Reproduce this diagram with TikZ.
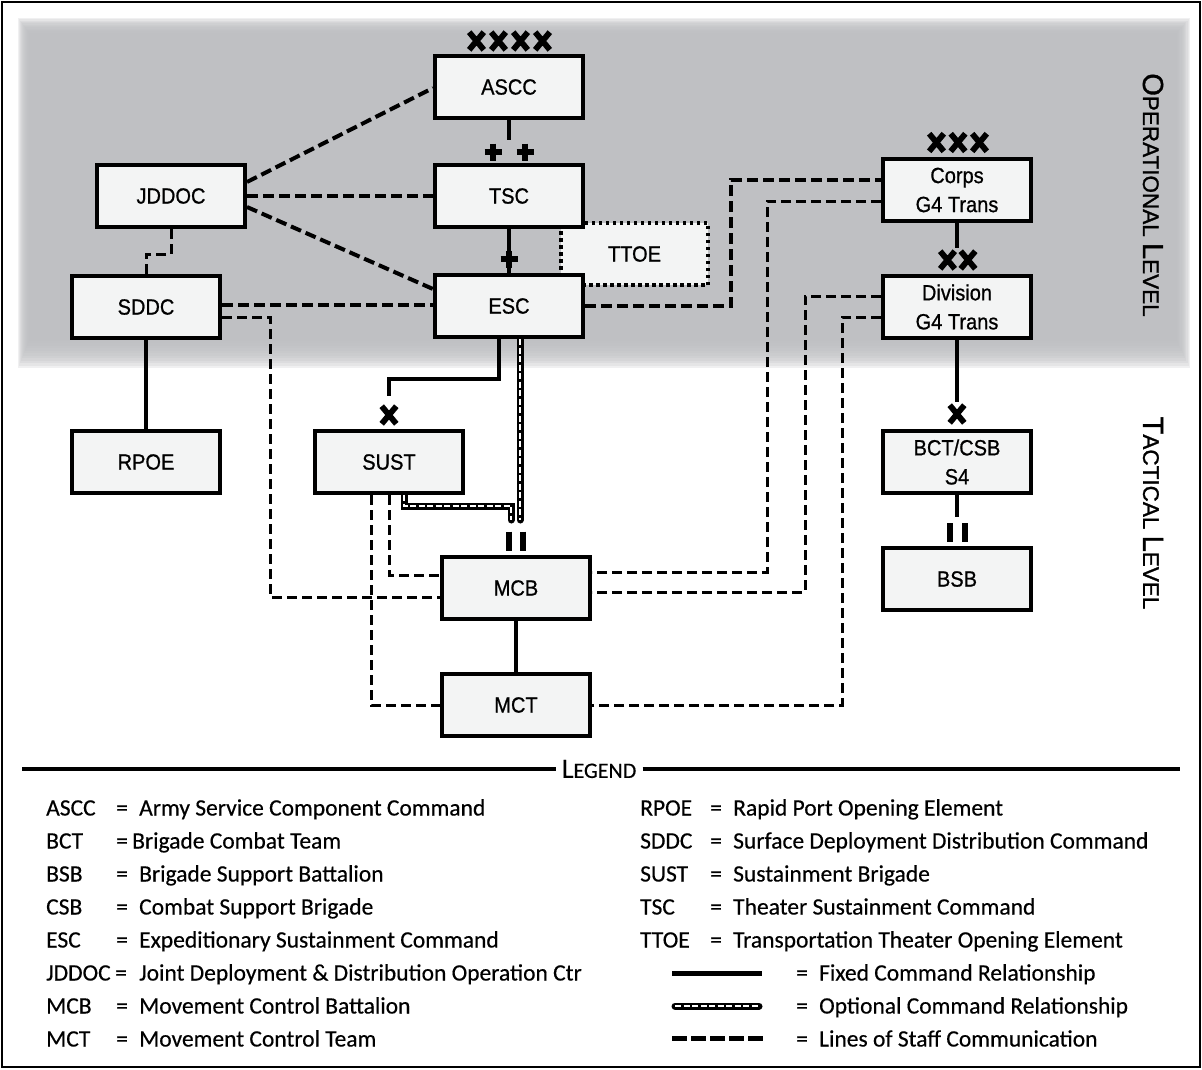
\documentclass[tikz,border=0pt]{standalone}
\usepackage{fontspec}
\setmainfont{Liberation Sans}
\newfontfamily\boxfont{Liberation Sans}[FakeStretch=0.91, FakeBold=0.8]
\newfontfamily\sidefont{Liberation Sans}[FakeBold=1.2]
\newfontfamily\legfont{Carlito}[FakeBold=0.4]
\usetikzlibrary{calc}
\pgfdeclarelayer{back}
\pgfdeclarelayer{conn}
\pgfsetlayers{back,conn,main}
\definecolor{bggray}{RGB}{190,191,194}
\definecolor{boxfill}{RGB}{243,244,244}
\begin{document}
\begin{tikzpicture}[x=1pt,y=-1pt,
  box/.style={draw=black, line width=4pt, fill=boxfill, minimum width=148pt, minimum height=62pt, inner sep=0pt, font=\boxfont\fontsize{22}{29}\selectfont, align=center},
  fixed/.style={line width=4.5pt},
  staff/.style={line width=4pt, dash pattern=on 11pt off 5pt},
  stafft/.style={line width=3pt, dash pattern=on 10pt off 5pt},
  optional/.style={line width=7pt, line cap=round, postaction={draw=white, line width=2.2pt, line cap=butt, dash pattern=on 6pt off 2.5pt}},
  ech/.style={line width=5.8pt},
  xmark/.pic={\draw[ech] (-7.3,-8.8)--(7.3,8.8) (-7.3,8.8)--(7.3,-8.8);},
  plusmark/.pic={\draw[ech] (0,-8.5)--(0,8.5) (-8.5,0)--(8.5,0);},
  imark/.pic={\draw[ech] (0,-9.5)--(0,9.5);},
  leg/.style={inner sep=0pt, anchor=base west, font=\legfont\fontsize{23.5}{28}\selectfont},
  side/.style={rotate=-90, inner sep=0pt, font=\sidefont},
  ]
\useasboundingbox (0,0) rectangle (1202,1069);

% backdrop
\begin{pgfonlayer}{back}
\fill[white] (0,0) rectangle (1202,1069);
\foreach \i in {0,...,11}{
  \fill[bggray, fill opacity=0.22] (18+\i, 18+\i*1.33) rectangle (1190-\i*1.2, 368-\i*2.5);
}
\end{pgfonlayer}
\draw[line width=2.5pt] (2,2) rectangle (1200,1067);

% nodes
\node[box] (ascc) at (509,87) {ASCC};
\node[box, dash pattern=on 3.5pt off 3.5pt, minimum width=147pt] (ttoe) at (634.5,254) {TTOE};
\node[box] (tsc) at (509,196) {TSC};
\node[box] (esc) at (509,306) {ESC};
\node[box] (jddoc) at (171,196) {JDDOC};
\node[box] (sddc) at (146,307) {SDDC};
\node[box] (rpoe) at (146,462) {RPOE};
\node[box] (sust) at (389,462) {SUST};
\node[box] (mcb) at (516,588) {MCB};
\node[box] (mct) at (516,705) {MCT};
\node[box] (corps) at (957,190) {Corps\\G4 Trans};
\node[box] (div) at (957,307) {Division\\G4 Trans};
\node[box] (bct) at (957,462) {BCT/CSB\\S4};
\node[box] (bsb) at (957,579) {BSB};

% connectors
\begin{pgfonlayer}{conn}
\draw[fixed] (ascc.south) -- ++(0,20);
\draw[fixed] (tsc.south) -- (esc.north);
\draw[staff] ($(jddoc.east)+(0,-14)$) -- ($(ascc.west)+(0,1)$);
\draw[staff] (jddoc.east) -- (tsc.west);
\draw[staff] ($(jddoc.east)+(0,11)$) -- ($(esc.west)+(0,-17)$);
\draw[stafft] (jddoc.south) -- ++(0,25) -| (sddc.north);
\draw[staff] ($(sddc.east)+(0,-2)$) -- ($(esc.west)+(0,-1)$);
\draw[stafft] ($(sddc.east)+(0,10)$) -| ($(mcb.west)+(-170,9)$) -- ($(mcb.west)+(0,9)$);
\draw[fixed] (sddc.south) -- (rpoe.north);
\draw[fixed] ($(esc.south)+(-10,0)$) -- ++(0,40) -| ($(sust.north)+(0,-33)$);
\draw[optional] ($(esc.south)+(11,0)$) -- ($(mcb.north)+(4,-35)$);
\draw[optional] ($(sust.south)+(15,0)$) -- ++(0,11) -| ($(mcb.north)+(-5,-35)$);
\draw[stafft] (sust.south) |- ($(mcb.west)+(0,-13)$);
\draw[stafft] ($(sust.south)+(-18,0)$) |- (mct.west);
\draw[fixed] (mcb.south) -- (mct.north);
\draw[staff] (esc.east) -| ($(corps.west)+(-150,-10)$) -- ($(corps.west)+(0,-10)$);
\draw[stafft] ($(corps.west)+(0,11)$) -| ($(mcb.east)+(175,-16)$) -- ($(mcb.east)+(0,-16)$);
\draw[stafft] ($(div.west)+(0,-11)$) -| ($(mcb.east)+(213,4)$) -- ($(mcb.east)+(0,4)$);
\draw[stafft] ($(div.west)+(0,10)$) -| ($(mct.east)+(250,0)$) -- (mct.east);
\draw[fixed] (corps.south) -- ++(0,25);
\draw[fixed] (div.south) -- ++(0,62);
\draw[fixed] (bct.south) -- ++(0,22);
\end{pgfonlayer}

% echelon marks
\foreach \x in {476.5,498.5,520.5,542.5} {\pic at (\x,41) {xmark};}
\pic at (493,152) {plusmark};
\pic at (525,152) {plusmark};
\pic at (509,259) {plusmark};
\pic at (389,415) {xmark};
\pic at (509,541) {imark};
\pic at (523,541) {imark};
\foreach \x in {936.5,958,979.5} {\pic at (\x,142.5) {xmark};}
\pic at (947.5,260) {xmark};
\pic at (968,260) {xmark};
\pic at (957,414) {xmark};
\pic at (950,532.5) {imark};
\pic at (965,532.5) {imark};

% side labels
\node[side] (oplevel) at (1153,195) {\fontsize{29}{30}\selectfont O\fontsize{22.5}{24}\selectfont PERATIONAL \fontsize{29}{30}\selectfont L\fontsize{22.5}{24}\selectfont EVEL};
\node[side] (taclevel) at (1153,513) {\fontsize{29}{30}\selectfont T\fontsize{22.5}{24}\selectfont ACTICAL \fontsize{29}{30}\selectfont L\fontsize{22.5}{24}\selectfont EVEL};

% legend title
\node[inner sep=0pt, font=\legfont] (legend) at (599,769) {\fontsize{28}{30}\selectfont L\fontsize{22}{24}\selectfont EGEND};
\coordinate (lgl) at (22,769);
\coordinate (lgr) at (1180,769);
\draw[line width=4pt] (lgl) -- ([xshift=-6pt]legend.west);
\draw[line width=4pt] ([xshift=6pt]legend.east) -- (lgr);

% legend left column
\foreach \ab/\eqx/\tx/\txt [count=\i] in {
  ASCC/116/139/Army Service Component Command,
  BCT/116/132/Brigade Combat Team,
  BSB/116/139/Brigade Support Battalion,
  CSB/116/139/Combat Support Brigade,
  ESC/116/139/Expeditionary Sustainment Command,
  JDDOC/115/139/Joint Deployment \& Distribution Operation Ctr,
  MCB/116/139/Movement Control Battalion,
  MCT/116/139/Movement Control Team}{
  \node[leg] (la\i) at (46,782.5+\i*33) {\ab};
  \node[leg] (le\i) at (\eqx,782.5+\i*33) {=};
  \node[leg] (lt\i) at (\tx,782.5+\i*33) {\txt};
}
% legend right column
\foreach \ab/\txt [count=\i] in {
  RPOE/Rapid Port Opening Element,
  SDDC/Surface Deployment Distribution Command,
  SUST/Sustainment Brigade,
  TSC/Theater Sustainment Command,
  TTOE/Transportation Theater Opening Element}{
  \node[leg] (ra\i) at (640,782.5+\i*33) {\ab};
  \node[leg] (re\i) at (710,782.5+\i*33) {=};
  \node[leg] (rt\i) at (733,782.5+\i*33) {\txt};
}
\foreach \txt [count=\i from 6] in {Fixed Command Relationship, Optional Command Relationship, Lines of Staff Communication}{
  \node[leg] (re\i) at (796,782.5+\i*33) {=};
  \node[leg] (rt\i) at (819,782.5+\i*33) {\txt};
}
\coordinate (s1a) at (672,973); \coordinate (s1b) at (762,973);
\coordinate (s2a) at (675,1006); \coordinate (s2b) at (759,1006);
\coordinate (s3a) at (672,1038); \coordinate (s3b) at (763,1038);
\draw[line width=5pt] (s1a) -- (s1b);
\draw[optional] (s2a) -- (s2b);
\draw[line width=5pt, dash pattern=on 15pt off 4pt] (s3a) -- (s3b);
\end{tikzpicture}
\end{document}
